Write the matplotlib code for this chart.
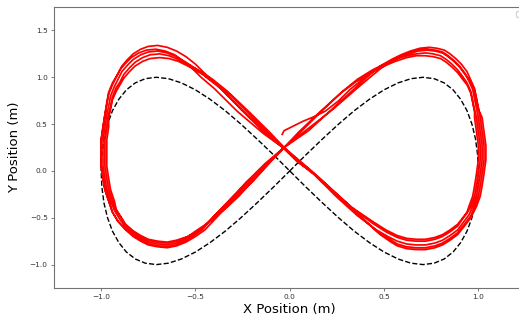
import numpy as np
import matplotlib
matplotlib.use("Agg")
import matplotlib.pyplot as plt

# reference figure-eight
ref_path = [
    (0.000, 0.000), (0.087, 0.174), (0.174, 0.342), (0.259, 0.500), (0.342, 0.643),
    (0.423, 0.766), (0.500, 0.866), (0.574, 0.940), (0.643, 0.985), (0.707, 1.000),
    (0.766, 0.985), (0.819, 0.940), (0.866, 0.866), (0.906, 0.766), (0.940, 0.643),
    (0.966, 0.500), (0.985, 0.342), (0.996, 0.174), (1.000, 0.000), (0.996, -0.174),
    (0.985, -0.342), (0.966, -0.500), (0.940, -0.643), (0.906, -0.766), (0.866, -0.866),
    (0.819, -0.940), (0.766, -0.985), (0.707, -1.000), (0.643, -0.985), (0.574, -0.940),
    (0.500, -0.866), (0.423, -0.766), (0.342, -0.643), (0.259, -0.500), (0.174, -0.342),
    (0.087, -0.174), (0.000, 0.000), (-0.087, 0.174), (-0.174, 0.342), (-0.259, 0.500),
    (-0.342, 0.643), (-0.423, 0.766), (-0.500, 0.866), (-0.574, 0.940), (-0.643, 0.985),
    (-0.707, 1.000), (-0.766, 0.985), (-0.819, 0.940), (-0.866, 0.866), (-0.906, 0.766),
    (-0.940, 0.643), (-0.966, 0.500), (-0.985, 0.342), (-0.996, 0.174), (-1.000, 0.000),
    (-0.996, -0.174), (-0.985, -0.342), (-0.966, -0.500), (-0.940, -0.643), (-0.906, -0.766),
    (-0.866, -0.866), (-0.819, -0.940), (-0.766, -0.985), (-0.707, -1.000), (-0.643, -0.985),
    (-0.574, -0.940), (-0.500, -0.866), (-0.423, -0.766), (-0.342, -0.643), (-0.259, -0.500),
    (-0.174, -0.342), (-0.087, -0.174), (0.000, 0.000),
]

# robot trajectory, read lap by lap
start_seg = [(-0.04, 0.39), (-0.03, 0.43), (0.01, 0.47), (0.07, 0.53),
             (0.13, 0.58), (0.19, 0.64), (0.26, 0.75)]

lap1 = [(0.32, 0.87), (0.40, 1.00), (0.47, 1.10), (0.53, 1.17), (0.58, 1.22),
        (0.63, 1.26), (0.68, 1.29), (0.73, 1.30), (0.77, 1.29), (0.81, 1.27),
        (0.84, 1.23), (0.87, 1.18), (0.90, 1.12), (0.93, 1.04), (0.95, 0.96),
        (0.97, 0.87), (0.98, 0.77), (0.99, 0.67), (1.00, 0.57), (1.01, 0.42),
        (1.02, 0.27), (1.02, 0.12), (1.01, -0.03), (1.00, -0.16), (0.99, -0.27),
        (0.97, -0.38), (0.95, -0.47), (0.92, -0.55), (0.89, -0.63), (0.85, -0.69),
        (0.81, -0.74), (0.77, -0.77), (0.72, -0.79), (0.67, -0.79), (0.62, -0.78),
        (0.57, -0.75), (0.52, -0.70), (0.46, -0.63), (0.36, -0.48), (0.25, -0.28),
        (0.13, -0.04), (0.04, 0.11),
        (-0.03, 0.24), (-0.13, 0.40), (-0.26, 0.66), (-0.38, 0.91), (-0.45, 1.04),
        (-0.50, 1.14), (-0.55, 1.22), (-0.60, 1.28), (-0.65, 1.32), (-0.70, 1.34),
        (-0.75, 1.33), (-0.79, 1.30), (-0.83, 1.25), (-0.86, 1.19), (-0.89, 1.12),
        (-0.91, 1.04), (-0.94, 0.94), (-0.96, 0.84), (-0.97, 0.73), (-0.98, 0.60),
        (-0.99, 0.47), (-1.00, 0.33), (-1.00, 0.19), (-1.00, 0.05), (-0.99, -0.08),
        (-0.98, -0.20), (-0.96, -0.32), (-0.94, -0.44), (-0.91, -0.54), (-0.87, -0.62),
        (-0.83, -0.69), (-0.79, -0.74), (-0.75, -0.78), (-0.70, -0.80), (-0.65, -0.81),
        (-0.60, -0.79), (-0.55, -0.75), (-0.51, -0.69), (-0.46, -0.62), (-0.40, -0.48),
        (-0.32, -0.31), (-0.23, -0.12), (-0.13, 0.08)]

lap2 = [(-0.03, 0.25), (0.10, 0.43), (0.23, 0.67), (0.35, 0.89), (0.42, 1.02),
        (0.48, 1.12), (0.54, 1.19), (0.59, 1.24), (0.64, 1.28), (0.69, 1.31),
        (0.74, 1.32), (0.78, 1.31), (0.82, 1.29), (0.85, 1.25), (0.88, 1.20),
        (0.91, 1.14), (0.94, 1.06), (0.96, 0.97), (0.98, 0.88), (0.99, 0.78),
        (1.00, 0.68), (1.01, 0.57), (1.02, 0.42), (1.03, 0.27), (1.03, 0.12),
        (1.02, -0.03), (1.01, -0.16), (1.00, -0.27), (0.98, -0.38), (0.96, -0.48),
        (0.93, -0.56), (0.89, -0.66), (0.85, -0.72), (0.81, -0.77), (0.77, -0.80),
        (0.72, -0.82), (0.67, -0.82), (0.62, -0.81), (0.57, -0.78), (0.53, -0.73),
        (0.47, -0.66), (0.38, -0.50), (0.27, -0.29), (0.14, -0.05), (0.04, 0.10),
        (-0.03, 0.24), (-0.14, 0.40), (-0.28, 0.64), (-0.40, 0.88), (-0.47, 1.00),
        (-0.52, 1.10), (-0.57, 1.18), (-0.61, 1.24), (-0.66, 1.28), (-0.71, 1.30),
        (-0.76, 1.29), (-0.80, 1.26), (-0.84, 1.21), (-0.87, 1.15), (-0.90, 1.08),
        (-0.92, 1.00), (-0.94, 0.92), (-0.96, 0.82), (-0.97, 0.71), (-0.98, 0.60),
        (-0.99, 0.47), (-1.00, 0.33), (-1.00, 0.19), (-1.00, 0.05), (-0.99, -0.08),
        (-0.98, -0.20), (-0.96, -0.32), (-0.94, -0.44), (-0.91, -0.54), (-0.87, -0.63),
        (-0.83, -0.70), (-0.79, -0.75), (-0.75, -0.79), (-0.70, -0.81), (-0.65, -0.82),
        (-0.60, -0.80), (-0.55, -0.76), (-0.50, -0.70), (-0.45, -0.63), (-0.38, -0.48),
        (-0.31, -0.32), (-0.22, -0.13), (-0.12, 0.07)]

lap3 = [(-0.03, 0.25), (0.06, 0.42), (0.17, 0.64), (0.28, 0.85), (0.36, 0.98),
        (0.44, 1.08), (0.51, 1.15), (0.57, 1.20), (0.62, 1.23), (0.67, 1.25),
        (0.72, 1.26), (0.76, 1.25), (0.80, 1.23), (0.83, 1.19), (0.86, 1.14),
        (0.89, 1.08), (0.92, 1.00), (0.94, 0.94), (0.96, 0.85), (0.97, 0.75),
        (0.98, 0.65), (0.99, 0.57), (1.00, 0.42), (1.01, 0.27), (1.01, 0.12),
        (1.00, -0.03), (0.99, -0.16), (0.98, -0.27), (0.96, -0.38), (0.94, -0.45),
        (0.91, -0.53), (0.89, -0.59), (0.85, -0.65), (0.81, -0.70), (0.77, -0.73),
        (0.72, -0.75), (0.67, -0.75), (0.62, -0.74), (0.57, -0.71), (0.51, -0.65),
        (0.44, -0.56), (0.34, -0.41), (0.23, -0.22), (0.12, -0.01), (0.04, 0.12),
        (-0.03, 0.25), (-0.10, 0.40), (-0.21, 0.62), (-0.33, 0.85), (-0.41, 0.98),
        (-0.48, 1.07), (-0.54, 1.14), (-0.59, 1.19), (-0.64, 1.23), (-0.69, 1.25),
        (-0.74, 1.24), (-0.78, 1.21), (-0.82, 1.16), (-0.85, 1.10), (-0.88, 1.03),
        (-0.90, 0.95), (-0.92, 0.89), (-0.94, 0.79), (-0.95, 0.68), (-0.96, 0.60),
        (-0.97, 0.47), (-0.98, 0.33), (-0.98, 0.19), (-0.98, 0.05), (-0.97, -0.08),
        (-0.96, -0.20), (-0.94, -0.32), (-0.92, -0.42), (-0.89, -0.51), (-0.87, -0.58),
        (-0.83, -0.65), (-0.79, -0.70), (-0.75, -0.74), (-0.70, -0.76), (-0.65, -0.77),
        (-0.60, -0.75), (-0.55, -0.71), (-0.49, -0.65), (-0.44, -0.57), (-0.36, -0.43),
        (-0.28, -0.28), (-0.19, -0.10), (-0.10, 0.10)]

lap4 = [(-0.03, 0.25), (0.09, 0.44), (0.23, 0.66), (0.35, 0.87), (0.42, 0.99),
        (0.48, 1.09), (0.53, 1.16), (0.58, 1.21), (0.63, 1.25), (0.68, 1.28),
        (0.73, 1.29), (0.77, 1.28), (0.81, 1.26), (0.84, 1.22), (0.87, 1.17),
        (0.90, 1.11), (0.93, 1.03), (0.96, 0.95), (0.98, 0.86), (0.99, 0.76),
        (1.00, 0.66), (1.02, 0.57), (1.03, 0.42), (1.04, 0.27), (1.04, 0.12),
        (1.03, -0.03), (1.02, -0.16), (1.01, -0.27), (0.99, -0.38), (0.96, -0.50),
        (0.93, -0.58), (0.89, -0.68), (0.85, -0.74), (0.81, -0.79), (0.77, -0.82),
        (0.72, -0.84), (0.67, -0.84), (0.62, -0.83), (0.57, -0.80), (0.53, -0.75),
        (0.48, -0.68), (0.39, -0.51), (0.28, -0.30), (0.15, -0.06), (0.04, 0.10),
        (-0.03, 0.24), (-0.12, 0.40), (-0.24, 0.63), (-0.36, 0.87), (-0.43, 0.98),
        (-0.49, 1.08), (-0.55, 1.16), (-0.60, 1.22), (-0.65, 1.26), (-0.70, 1.28),
        (-0.75, 1.27), (-0.79, 1.24), (-0.83, 1.19), (-0.86, 1.13), (-0.89, 1.06),
        (-0.91, 0.98), (-0.93, 0.90), (-0.95, 0.80), (-0.96, 0.69), (-0.97, 0.60),
        (-0.98, 0.47), (-0.99, 0.33), (-0.99, 0.19), (-0.99, 0.05), (-0.98, -0.08),
        (-0.97, -0.20), (-0.95, -0.32), (-0.93, -0.42), (-0.90, -0.52), (-0.87, -0.60),
        (-0.83, -0.67), (-0.79, -0.72), (-0.75, -0.76), (-0.70, -0.78), (-0.65, -0.79),
        (-0.60, -0.77), (-0.55, -0.73), (-0.50, -0.67), (-0.46, -0.60), (-0.39, -0.46),
        (-0.31, -0.31), (-0.23, -0.12), (-0.12, 0.08)]

lap5 = [(-0.03, 0.25), (0.05, 0.42), (0.16, 0.63), (0.27, 0.83), (0.35, 0.95),
        (0.43, 1.05), (0.50, 1.12), (0.56, 1.17), (0.62, 1.21), (0.67, 1.23),
        (0.72, 1.23), (0.76, 1.22), (0.80, 1.20), (0.83, 1.16), (0.86, 1.11),
        (0.89, 1.05), (0.92, 0.97), (0.94, 0.92), (0.96, 0.83), (0.97, 0.73),
        (0.98, 0.63), (0.98, 0.57), (0.99, 0.42), (1.00, 0.27), (1.00, 0.12),
        (0.99, -0.03), (0.98, -0.16), (0.97, -0.27), (0.95, -0.38), (0.94, -0.44),
        (0.91, -0.52), (0.89, -0.57), (0.85, -0.63), (0.81, -0.68), (0.77, -0.71),
        (0.72, -0.73), (0.67, -0.73), (0.62, -0.72), (0.57, -0.69), (0.51, -0.63),
        (0.44, -0.54), (0.33, -0.39), (0.22, -0.20), (0.11, 0.01), (0.04, 0.13),
        (-0.03, 0.25), (-0.11, 0.40), (-0.21, 0.60), (-0.31, 0.80), (-0.39, 0.93),
        (-0.46, 1.03), (-0.53, 1.11), (-0.59, 1.17), (-0.64, 1.20), (-0.69, 1.21),
        (-0.74, 1.20), (-0.78, 1.17), (-0.82, 1.12), (-0.85, 1.06), (-0.88, 0.99),
        (-0.90, 0.92), (-0.92, 0.85), (-0.94, 0.76), (-0.95, 0.66), (-0.96, 0.57),
        (-0.96, 0.47), (-0.97, 0.33), (-0.97, 0.19), (-0.97, 0.05), (-0.96, -0.08),
        (-0.95, -0.20), (-0.93, -0.32), (-0.92, -0.41), (-0.89, -0.51), (-0.87, -0.57),
        (-0.83, -0.64), (-0.79, -0.69), (-0.75, -0.73), (-0.70, -0.75), (-0.65, -0.76),
        (-0.60, -0.74), (-0.54, -0.70), (-0.49, -0.63), (-0.43, -0.55), (-0.35, -0.42),
        (-0.27, -0.27), (-0.19, -0.09), (-0.10, 0.11), (-0.03, 0.25)]

ref = np.array(ref_path)
robot = np.array(start_seg + lap1 + lap2 + lap3 + lap4 + lap5)

fig = plt.figure(figsize=(5.19, 3.20), dpi=100)
ax = fig.add_axes([0.104, 0.10, 0.9085, 0.878])

ax.plot(ref[:, 0], ref[:, 1], color='black', linestyle='--', linewidth=1.0)
ax.plot(robot[:, 0], robot[:, 1], color='red', linewidth=1.25)

ax.set_xlim(-1.25, 1.25)
ax.set_ylim(-1.25, 1.75)
ax.set_xticks([-1.0, -0.5, 0.0, 0.5, 1.0])
ax.set_yticks([-1.0, -0.5, 0.0, 0.5, 1.0, 1.5])
ax.tick_params(labelsize=5.3, length=2.5, width=0.6, pad=2, color='0.4', labelcolor='0.2')
for s in ax.spines.values():
    s.set_color('0.45')
    s.set_linewidth(0.8)

ax.set_xlabel('X Position (m)', fontsize=9.5, labelpad=2)
ax.set_ylabel('Y Position (m)', fontsize=9.5, labelpad=6)
ax.legend(handles=[], loc='upper right', fontsize=5.3)

fig.savefig('out.png', dpi=100)
